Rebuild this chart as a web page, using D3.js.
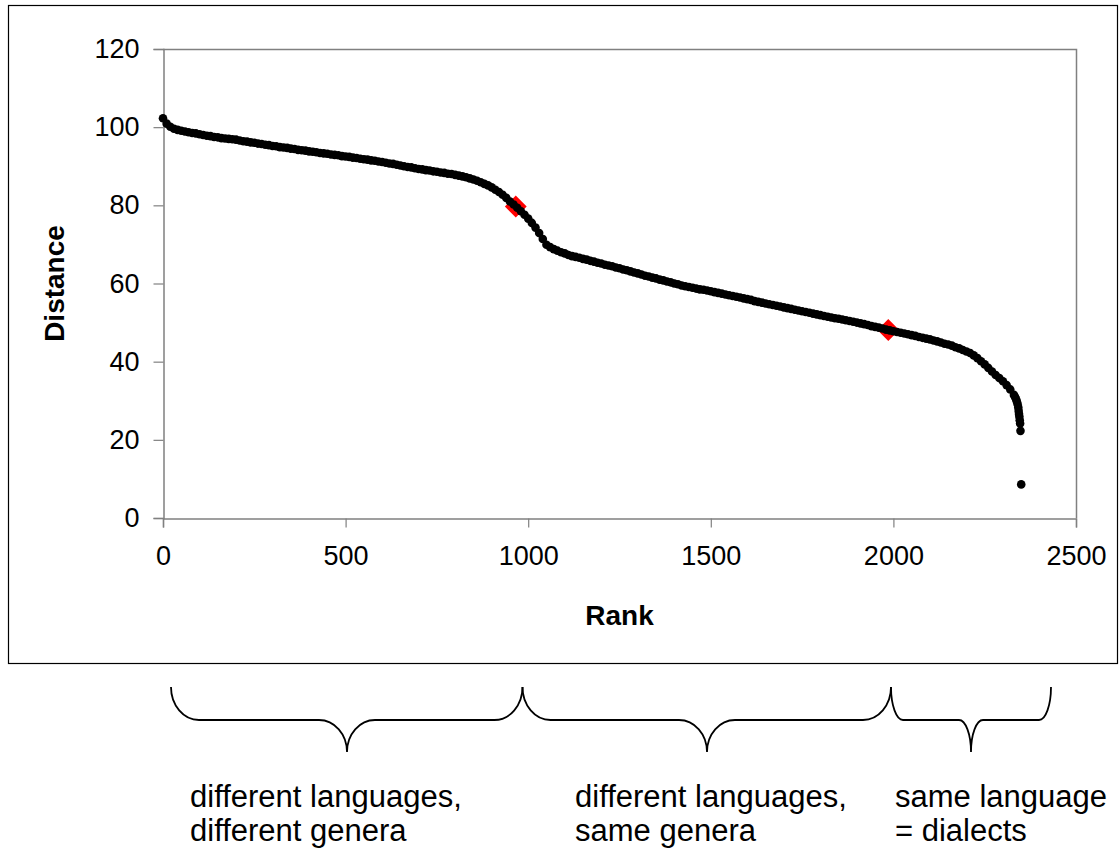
<!DOCTYPE html>
<html>
<head>
<meta charset="utf-8">
<script src="https://cdn.jsdelivr.net/npm/d3@7"></script>
<style>
  html, body { margin: 0; padding: 0; background: #fff; }
  svg { display: block; }
  text { font-family: "Liberation Sans", Arial, sans-serif; fill: #000; }
</style>
</head>
<body>
<svg id="chart" width="1120" height="849"></svg>
<script>
// ---- data ----
const rankStep = 10;               // main series sampled every 10 ranks, starting at rank 0
const distances = [
  102.3,100.9,100.1,99.6,99.3,99.1,98.9,98.7,98.5,98.4,
  98.2,98.0,97.8,97.7,97.5,97.4,97.2,97.1,97.0,96.9,
  96.8,96.6,96.4,96.3,96.1,96.0,95.8,95.7,95.5,95.4,
  95.2,95.1,94.9,94.8,94.7,94.5,94.4,94.2,94.1,94.0,
  93.8,93.7,93.6,93.4,93.3,93.2,93.0,92.9,92.8,92.6,
  92.5,92.4,92.2,92.1,91.9,91.8,91.7,91.5,91.4,91.2,
  91.1,90.9,90.7,90.6,90.4,90.2,90.0,89.8,89.7,89.5,
  89.3,89.2,89.0,88.9,88.7,88.6,88.4,88.3,88.1,88.0,
  87.8,87.6,87.4,87.2,86.9,86.6,86.3,85.9,85.5,85.1,
  84.6,84.0,83.4,82.7,81.9,81.0,80.2,79.4,78.5,77.6,
  76.6,75.5,74.3,72.9,71.4,69.9,69.3,68.8,68.4,68.0,
  67.7,67.3,67.0,66.8,66.6,66.3,66.1,65.8,65.6,65.3,
  65.1,64.8,64.6,64.4,64.1,63.9,63.6,63.4,63.1,62.8,
  62.6,62.3,62.0,61.8,61.5,61.3,61.0,60.8,60.5,60.3,
  60.0,59.8,59.5,59.3,59.1,58.9,58.7,58.5,58.4,58.2,
  58.0,57.8,57.6,57.4,57.2,57.0,56.8,56.6,56.4,56.2,
  56.0,55.8,55.5,55.3,55.1,54.9,54.7,54.5,54.3,54.1,
  53.9,53.7,53.5,53.3,53.1,52.9,52.7,52.5,52.3,52.1,
  51.9,51.7,51.5,51.3,51.1,51.0,50.8,50.6,50.4,50.2,
  50.0,49.8,49.6,49.4,49.1,48.9,48.7,48.5,48.2,48.0,
  47.8,47.6,47.4,47.2,47.0,46.8,46.6,46.3,46.1,45.9,
  45.7,45.4,45.2,44.9,44.6,44.4,44.1,43.7,43.4,43.0,
  42.6,42.2,41.6,40.9,40.1,39.3,38.4,37.5,36.6,35.8,
  35.0,34.0,32.9,31.5,29.2
];
const tailRanks     = [2333, 2336, 2338, 2342, 2343, 2344, 2345, 2346, 2347, 2348, 2350];
const tailDistances = [31.0, 30.4, 29.8, 28.3, 27.4, 26.6, 25.9, 25.0, 24.2, 22.3, 8.6];
const markerRanks     = [966, 1986];
const markerDistances = [79.7, 48.1];
const xTicks = [0, 500, 1000, 1500, 2000, 2500];
const yTicks = [0, 20, 40, 60, 80, 100, 120];
const xTitle = "Rank";
const yTitle = "Distance";
const groupLabels = [
  ["different languages,", "different genera"],
  ["different languages,", "same genera"],
  ["same language", "= dialects"]
];

// ---- layout ----
const svg = d3.select("#chart");
const plot = { left: 163, right: 1076, top: 49, bottom: 518 };
const x = d3.scaleLinear().domain([0, 2500]).range([plot.left, plot.right]);
const y = d3.scaleLinear().domain([0, 120]).range([plot.bottom, plot.top]);
const axisColor = "#808080";

// outer chart frame
svg.append("rect")
  .attr("x", 8.5).attr("y", 5.5).attr("width", 1109).attr("height", 658)
  .attr("fill", "#fff").attr("stroke", "#000").attr("stroke-width", 1.2);

// plot border (top & right)
svg.append("path")
  .attr("d", `M${plot.left},${plot.top + 0.5}H${plot.right + 0.5}V${plot.bottom}`)
  .attr("fill", "none").attr("stroke", axisColor).attr("stroke-width", 1.5);

// axes
const yAxis = svg.append("g")
  .attr("transform", `translate(${plot.left + 0.5},0)`)
  .call(d3.axisLeft(y).tickValues(yTicks).tickSize(10).tickPadding(14).tickFormat(d3.format("d")));
const xAxis = svg.append("g")
  .attr("transform", `translate(0,${plot.bottom + 0.5})`)
  .call(d3.axisBottom(x).tickValues(xTicks).tickSize(9).tickPadding(18).tickFormat(d3.format("d")));
[xAxis, yAxis].forEach(g => {
  g.select(".domain").attr("stroke", axisColor).attr("stroke-width", 1.5);
  g.selectAll(".tick line").attr("stroke", axisColor).attr("stroke-width", 1.2);
  g.selectAll(".tick text").attr("font-size", 27).attr("font-family", "Liberation Sans, Arial, sans-serif").attr("fill", "#000");
});

// axis titles
svg.append("text")
  .attr("x", (plot.left + plot.right) / 2).attr("y", 625)
  .attr("text-anchor", "middle").attr("font-size", 28).attr("font-weight", "bold")
  .text(xTitle);
svg.append("text")
  .attr("transform", `translate(64,${(plot.top + plot.bottom) / 2}) rotate(-90)`)
  .attr("text-anchor", "middle").attr("font-size", 28).attr("font-weight", "bold")
  .text(yTitle);

// markers (red diamonds, drawn beneath the points)
const markers = markerRanks.map((r, i) => ({ r, d: markerDistances[i] }));
svg.append("g").selectAll("path").data(markers).join("path")
  .attr("transform", m => `translate(${x(m.r)},${y(m.d)})`)
  .attr("d", d3.symbol().type(d3.symbolDiamond2).size(230))
  .attr("fill", "#ff0000").attr("stroke", "#ff0000").attr("stroke-width", 2);

// points
const pts = distances.map((d, i) => ({ r: i * rankStep, d }))
  .concat(tailRanks.map((r, i) => ({ r, d: tailDistances[i] })));
svg.append("g").selectAll("circle").data(pts).join("circle")
  .attr("cx", p => x(p.r)).attr("cy", p => y(p.d)).attr("r", 4.3)
  .attr("fill", "#000");

// braces below chart
const braces = [
  { x0: 171, xm: 347, x1: 522.5, rx: 28 },
  { x0: 522.5, xm: 707, x1: 891, rx: 28 },
  { x0: 891, xm: 971, x1: 1051, rx: 12 }
];
const bTop = 687, bMid = 720, bBot = 752;
svg.append("g").selectAll("path").data(braces).join("path")
  .attr("d", b => {
    const ry1 = bMid - bTop, ry2 = bBot - bMid;
    return `M${b.x0},${bTop}` +
      `A${b.rx},${ry1} 0 0 0 ${b.x0 + b.rx},${bMid}` +
      `L${b.xm - b.rx},${bMid}` +
      `A${b.rx},${ry2} 0 0 1 ${b.xm},${bBot}` +
      `A${b.rx},${ry2} 0 0 1 ${b.xm + b.rx},${bMid}` +
      `L${b.x1 - b.rx},${bMid}` +
      `A${b.rx},${ry1} 0 0 0 ${b.x1},${bTop}`;
  })
  .attr("fill", "none").attr("stroke", "#000").attr("stroke-width", 1.8);

// group labels
const labelX = [190, 575, 895];
const lbl = svg.append("g");
groupLabels.forEach((lines, i) => {
  lines.forEach((t, j) => {
    lbl.append("text")
      .attr("x", labelX[i]).attr("y", 807 + j * 34)
      .attr("font-size", 31)
      .text(t);
  });
});
</script>
</body>
</html>
